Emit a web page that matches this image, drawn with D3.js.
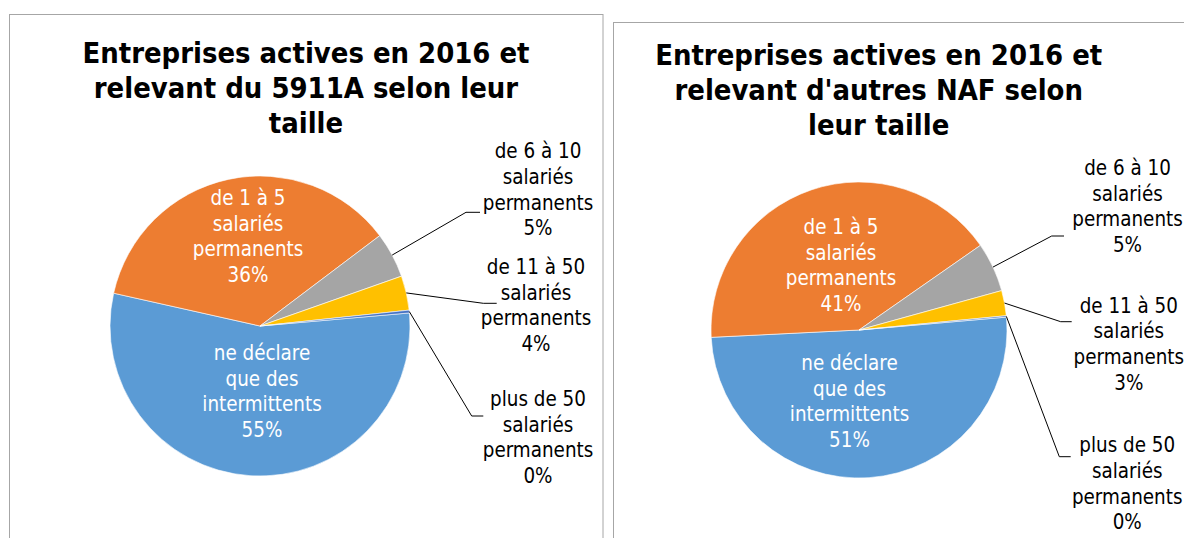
<!DOCTYPE html>
<html><head><meta charset="utf-8">
<script src="https://cdn.jsdelivr.net/npm/d3@7"></script>
<style>
html,body{margin:0;padding:0;background:#fff;}
svg text{font-family:'DejaVu Sans Condensed','DejaVu Sans',sans-serif;font-stretch:condensed;}
</style></head>
<body><svg id="chart" width="1184" height="538"></svg>
<script>
// ---- data ----
const categories = ["ne déclare que des intermittents","de 1 à 5 salariés permanents","de 6 à 10 salariés permanents","de 11 à 50 salariés permanents","plus de 50 salariés permanents"];
const labelLines = [["ne déclare","que des","intermittents"],["de 1 à 5","salariés","permanents"],["de 6 à 10","salariés","permanents"],["de 11 à 50","salariés","permanents"],["plus de 50","salariés","permanents"]];
const values5911A = [54.9, 36.2, 4.9, 3.7, 0.3];
const valuesAutresNAF = [50.6, 41.1, 5.4, 2.75, 0.15];
const title5911A = ["Entreprises actives en 2016 et","relevant du 5911A selon leur","taille"];
const titleAutresNAF = ["Entreprises actives en 2016 et","relevant d'autres NAF selon","leur taille"];
const colors = ["#5B9BD5","#ED7D31","#A5A5A5","#FFC000","#4472C4"];

// ---- layout ----
const panels = [
  {values: values5911A, title: title5911A, frame:{x:9.5,y:14.5,w:593.5,h:600},
   titleX:306, titleY:63.3, cx:260, cy:326, r:150,
   inner:{0:[262,360],1:[248,205]},
   outer:{2:{x:538,y:158.3,ex:466,ey:212.3,hx:480},
          3:{x:536,y:274,ex:483.3,ey:303.3,hx:496.7},
          4:{x:538,y:406,ex:471.7,ey:416,hx:483.3}}},
  {values: valuesAutresNAF, title: titleAutresNAF, frame:{x:613.5,y:22.5,w:700,h:600},
   titleX:878.7, titleY:65, cx:859, cy:330, r:148,
   inner:{0:[849.5,370],1:[841,234]},
   outer:{2:{x:1127.5,y:175,ex:1051.7,ey:236,hx:1064},
          3:{x:1128.8,y:312.7,ex:1060.7,ey:321.7,hx:1071.7},
          4:{x:1127.2,y:452.3,ex:1059.3,ey:456.7,hx:1070.7}}}
];
const startDeg = 85;
const titleSize = 28.9, titleLH = 35, labelSize = 20.4, labelLH = 25.6;

const svg = d3.select("#chart");

panels.forEach(p => {
  svg.append("rect").attr("x",p.frame.x).attr("y",p.frame.y).attr("width",p.frame.w).attr("height",p.frame.h)
    .attr("fill","#fff").attr("stroke","#a6a6a6").attr("stroke-width",1);

  const t = svg.append("text").attr("text-anchor","middle").attr("font-weight","bold")
    .attr("font-size",titleSize).attr("fill","#000");
  p.title.forEach((line,i)=> t.append("tspan").attr("x",p.titleX).attr("y",p.titleY+i*titleLH).text(line));

  const total = d3.sum(p.values);
  const pie = d3.pie().sort(null).value(d=>d)
    .startAngle(startDeg*Math.PI/180).endAngle(startDeg*Math.PI/180+2*Math.PI);
  const arcs = pie(p.values);
  const arc = d3.arc().innerRadius(0).outerRadius(p.r);
  const edge = d3.arc().innerRadius(p.r).outerRadius(p.r);
  const g = svg.append("g").attr("transform",`translate(${p.cx},${p.cy})`);
  g.selectAll("path").data(arcs).join("path").attr("d",arc)
    .attr("fill",(d,i)=>colors[i]).attr("stroke","#fff").attr("stroke-width",0.6);

  arcs.forEach((a,i)=>{
    const lines = labelLines[i].concat([Math.round(a.value/total*100)+"%"]);
    let x,y,fill;
    if (p.inner[i]) { [x,y] = p.inner[i]; fill="#fff"; }
    else {
      const o = p.outer[i]; x=o.x; y=o.y; fill="#000";
      const c = edge.centroid(a);
      svg.append("polyline").attr("points",[[p.cx+c[0],p.cy+c[1]],[o.ex,o.ey],[o.hx,o.ey]].map(q=>q.join(",")).join(" "))
        .attr("fill","none").attr("stroke","#000").attr("stroke-width",1);
    }
    const tx = svg.append("text").attr("text-anchor","middle").attr("font-size",labelSize).attr("fill",fill);
    lines.forEach((l,k)=> tx.append("tspan").attr("x",x).attr("y",y+k*labelLH).text(l));
  });
});
</script></body></html>
